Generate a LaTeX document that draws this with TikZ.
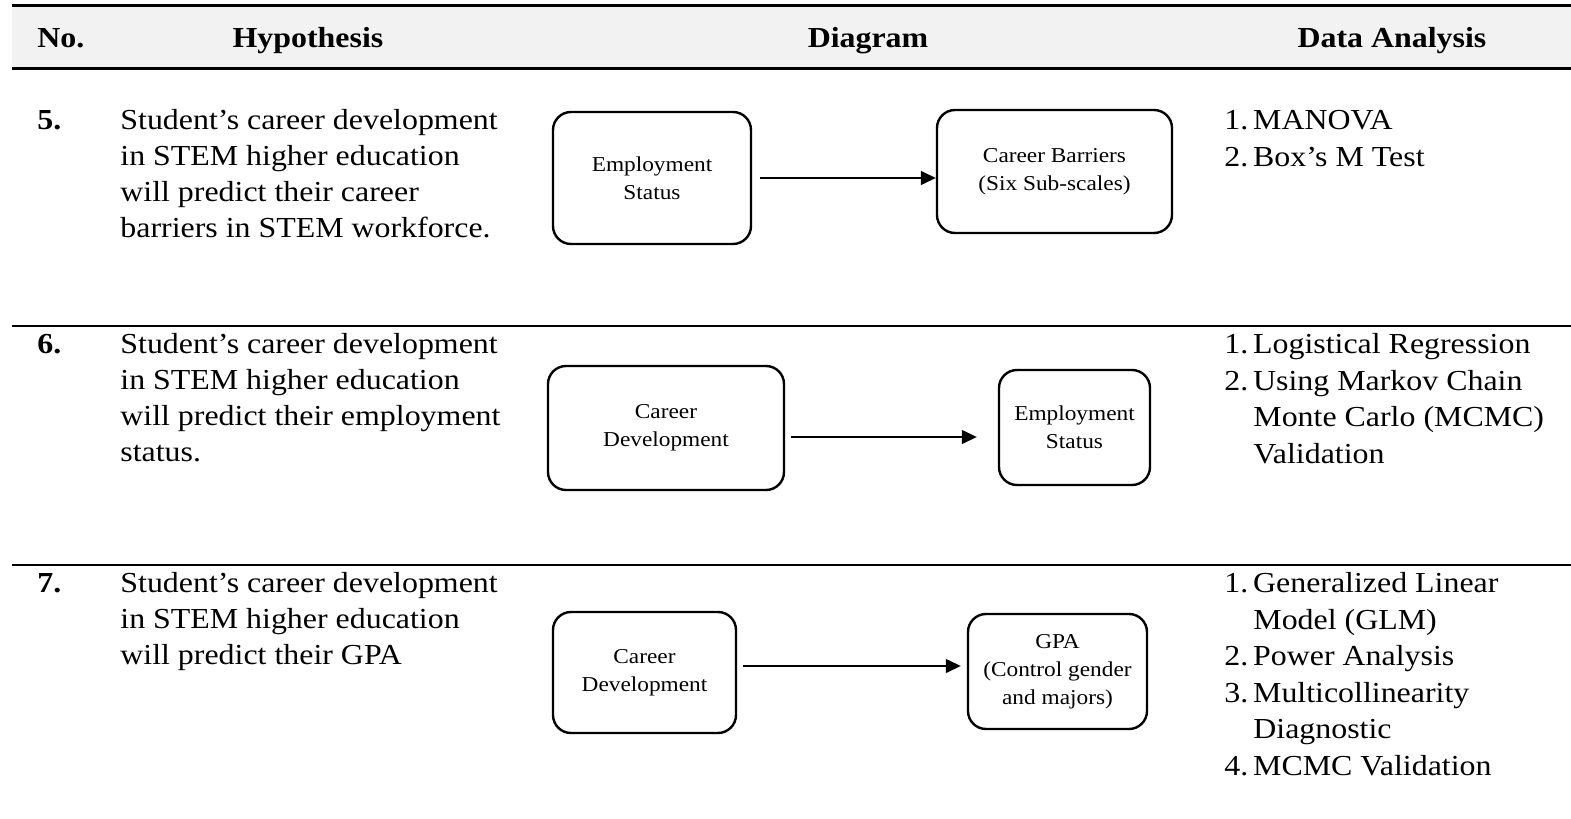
\documentclass[tikz,border=0pt]{standalone}
\usepackage{fontspec}
\setmainfont{Liberation Serif}[FakeStretch=1.1]
\usepackage{tikz}
\usetikzlibrary{arrows.meta, positioning}

\begin{document}
\begin{tikzpicture}[
    x=0.5pt, y=-0.5pt,
    box/.style={rectangle, draw, rounded corners=9pt, line width=1.2pt,
                align=center, inner sep=0pt, font=\fontsize{10.6}{14}\selectfont},
    arrow/.style={-{Triangle[length=7.5pt, width=7pt]}, line width=0.7pt},
    head/.style={anchor=base, inner sep=0pt, font=\fontsize{14.5}{18}\selectfont\bfseries},
    num/.style={anchor=base west, inner sep=0pt, font=\fontsize{14.5}{18}\selectfont\bfseries},
    hyp/.style={anchor=north west, align=left, inner sep=0pt, font=\fontsize{14.5}{18}\selectfont},
    ana/.style={hyp, font=\fontsize{14.5}{18.3}\selectfont},
    rule/.style={line width=1.5pt},
    thinrule/.style={line width=1pt},
]
    \useasboundingbox (0,0) rectangle (1571,819);

    % Header
    \fill[black!5] (12,5) rectangle (1571,68);
    \draw[rule] (12,5) -- (1571,5);
    \draw[rule] (12,68) -- (1571,68);
    \node[head, anchor=base west] (hno) at (37,47) {No.};
    \node[head] (hhyp) at (308,47) {Hypothesis};
    \node[head] (hdia) at (868,47) {Diagram};
    \node[head] (hana) at (1392,47) {Data Analysis};

    % Row separators
    \draw[thinrule] (12,326) -- (1571,326);
    \draw[thinrule] (12,565) -- (1571,565);

    % Hypothesis 5
    \node[num] (no5) at (37,129) {5.};
    \node[hyp] (hyp5) at (120,103.8) {\strut Student’s career development\\in STEM higher education\\will predict their career\\barriers in STEM workforce.};
    \node[box, minimum width=99pt, minimum height=66pt] (emp5) at (652,178) {Employment\\Status};
    \node[box, minimum width=117.5pt, minimum height=61.5pt] (bar5) at (1054.5,171.5) {Career Barriers\\(Six Sub-scales)};
    \node[ana] (ana5) at (1224,103.4) {\strut 1.\,MANOVA\\2.\,Box’s M Test};
    \draw[arrow, shorten <=4pt] (emp5.east) -- (emp5.east -| bar5.west);

    % Hypothesis 6
    \node[num] (no6) at (37,353) {6.};
    \node[hyp] (hyp6) at (120,327.8) {\strut Student’s career development\\in STEM higher education\\will predict their employment\\status.};
    \node[box, minimum width=118pt, minimum height=62pt] (dev6) at (666,428) {Career\\Development};
    \node[box, minimum width=75.5pt, minimum height=57.5pt] (emp6) at (1074.5,427.5) {Employment\\Status};
    \node[ana] (ana6) at (1224,327.4) {\strut 1.\,Logistical Regression\\2.\,Using Markov Chain\\\hspace*{1.0em}Monte Carlo (MCMC)\\\hspace*{1.0em}Validation};
    \draw[arrow, shorten <=3pt, shorten >=10.5pt] ([yshift=-4.5pt]dev6.east) -- ([yshift=-4.5pt]dev6.east -| emp6.west);

    % Hypothesis 7
    \node[num] (no7) at (37,592) {7.};
    \node[hyp] (hyp7) at (120,566.8) {\strut Student’s career development\\in STEM higher education\\will predict their GPA};
    \node[box, minimum width=91.5pt, minimum height=60.5pt] (dev7) at (644.5,672.5) {Career\\Development};
    \node[box, minimum width=89.5pt, minimum height=57.5pt] (gpa7) at (1057.5,671.5) {GPA\\(Control gender\\and majors)};
    \node[ana] (ana7) at (1224,566.4) {\strut 1.\,Generalized Linear\\\hspace*{1.0em}Model (GLM)\\2.\,Power Analysis\\3.\,Multicollinearity\\\hspace*{1.0em}Diagnostic\\4.\,MCMC Validation};
    \draw[arrow, shorten <=3pt, shorten >=3pt] ([yshift=3.25pt]dev7.east) -- ([yshift=3.25pt]dev7.east -| gpa7.west);
\end{tikzpicture}
\end{document}
